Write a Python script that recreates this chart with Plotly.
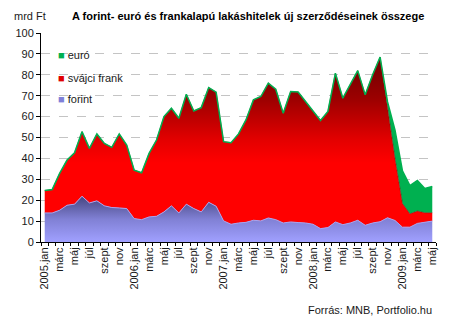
import numpy as np
import plotly.graph_objects as go

# Monthly new housing-loan contracts, billion HUF (2005.jan - 2009.máj)
years = [2005, 2006, 2007, 2008, 2009]
months = ["jan", "febr", "márc", "ápr", "máj", "jún", "júl", "aug", "szept", "okt", "nov", "dec"]
periods = [(y, m) for y in years for m in months][:53]

forint = [13.9, 13.9, 15.2, 17.6, 18.1, 21.9, 18.7, 19.7, 17.3, 16.5, 16.3, 16.0,
          11.2, 10.7, 12.0, 12.3, 14.4, 17.3, 13.9, 18.1, 16.0, 14.4, 19.0, 17.1,
          10.1, 8.5, 9.1, 9.4, 10.4, 10.1, 11.5, 10.7, 9.1, 9.6, 9.3, 9.1,
          8.5, 6.4, 6.9, 9.6, 8.3, 9.1, 10.4, 8.0, 9.1, 9.7, 11.6, 10.3,
          7.1, 7.1, 8.9, 9.5, 10.0]
frank = [10.7, 11.2, 17.6, 21.6, 24.6, 30.9, 26.1, 32.0, 29.9, 28.8, 35.4, 30.4,
         23.2, 22.4, 30.4, 36.5, 45.6, 46.7, 45.3, 52.6, 46.7, 49.9, 54.9, 54.6,
         37.9, 39.0, 42.6, 49.0, 57.6, 59.5, 64.5, 62.4, 52.5, 62.4, 62.5, 58.1,
         53.9, 51.7, 55.6, 71.2, 60.5, 66.1, 71.6, 62.4, 70.9, 78.8, 51.4, 29.7,
         11.3, 6.4, 5.9, 4.5, 4.0]
euro = [0.0] * 12 + [0.0] * 12 + [0.0] * 12 + \
       [0.0, 0.0, 0.0, 0.0, 0.0, 0.0, 0.0, 0.0, 0.0, 0.0, 4.0, 13.5] + \
       [15.6, 13.5, 14.6, 11.6, 12.6]

series_names = ["forint", "svájci frank", "euró"]
series_colors = ["#7f7fd8", "#e00000", "#00b050"]

x = np.arange(len(forint))
tick_idx = list(range(0, len(periods), 2))
tick_txt = [f"{periods[i][0]}.{periods[i][1]}" if periods[i][1] == "jan" else periods[i][1]
            for i in tick_idx]

FONT = "Liberation Sans, Arial, sans-serif"

fig = go.Figure()
fig.add_trace(go.Scatter(
    x=x, y=forint, name=series_names[0], stackgroup="one", mode="lines",
    line=dict(color="#a4a4f2", width=1),
    fillgradient=dict(type="vertical", start=0, stop=22,
                      colorscale=[[0, "#a0a0ff"], [0.5, "#8080d4"], [1, "#45457f"]]),
    showlegend=False))
fig.add_trace(go.Scatter(
    x=x, y=frank, name=series_names[1], stackgroup="one", mode="lines",
    line=dict(color="#7a0000", width=0.5),
    fillgradient=dict(type="vertical", start=0, stop=90,
                      colorscale=[[0, "#ff0000"], [0.42, "#ff0000"], [0.54, "#e40000"],
                                  [0.65, "#c00000"], [0.76, "#9c0000"], [0.88, "#820000"],
                                  [1, "#700000"]]),
    showlegend=False))
fig.add_trace(go.Scatter(
    x=x, y=euro, name=series_names[2], stackgroup="one", mode="lines",
    line=dict(color="#00b050", width=1.5), fillcolor="#00b050",
    showlegend=False))

# axis coordinates in paper units: plot spans x 41..436 px, y 33..242 px
def px(xp):
    return (xp - 41) / 395

def py(yp):
    return (242 - yp) / 209

annotations = [
    dict(x=px(12), y=py(16), text="mrd Ft", xanchor="left", yanchor="middle",
         font=dict(size=11, color="#1a1a1a")),
    dict(x=px(70), y=py(16), text="<b>A forint- euró és frankalapú lakáshitelek új szerződéseinek összege</b>",
         xanchor="left", yanchor="middle", font=dict(size=11, color="#000000")),
    dict(x=px(434), y=py(310), text="Forrás: MNB, Portfolio.hu", xanchor="right",
         yanchor="middle", font=dict(size=11, color="#1a1a1a")),
]
legend_y = [99, 78, 55]
for name, col, ly in zip(series_names, series_colors, legend_y):
    annotations.append(dict(
        x=px(56), y=py(ly), xanchor="left", yanchor="middle",
        text=f"<span style='color:{col}'>■</span> {name}",
        font=dict(size=11, color="#1a1a1a")))
for a in annotations:
    a.update(xref="paper", yref="paper", showarrow=False)

fig.update_layout(
    width=450, height=325,
    margin=dict(l=41, r=14, t=33, b=83),
    paper_bgcolor="white", plot_bgcolor="white",
    font=dict(family=FONT, size=11, color="#1a1a1a"),
    annotations=annotations,
    xaxis=dict(
        range=[-0.5, len(forint) - 0.5],
        tickmode="array", tickvals=tick_idx, ticktext=tick_txt, tickangle=-90,
        ticks="", showgrid=False, zeroline=False,
        showline=True, linecolor="black", linewidth=1,
        minor=dict(tickmode="array", tickvals=[i - 0.5 for i in range(len(forint) + 1)],
                   ticks="outside", ticklen=3, tickcolor="black", showgrid=False),
        tickfont=dict(size=11),
    ),
    yaxis=dict(
        range=[0, 100], dtick=10, tick0=0,
        showgrid=True, gridcolor="#c4c4c4", griddash="dash", gridwidth=1,
        zeroline=False, showline=True, linecolor="black", linewidth=1,
        ticks="outside", ticklen=4, tickcolor="black",
        tickfont=dict(size=11),
    ),
)

fig.write_html("out.html")
